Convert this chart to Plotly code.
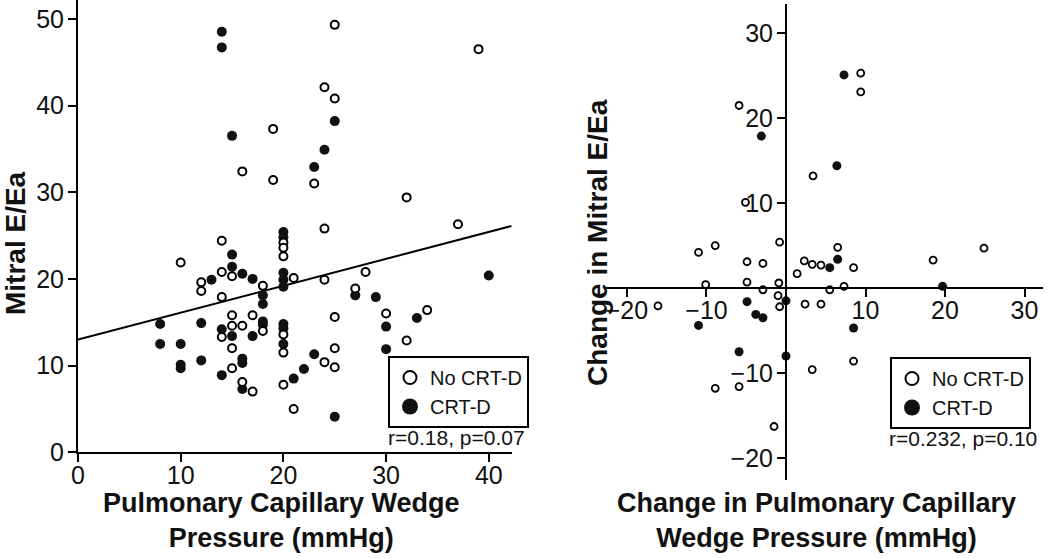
import plotly.graph_objs as go

# PCWP vs Mitral E/Ea
no_crt_x = [10, 12, 12, 14, 14, 14, 14, 15, 15, 15, 15, 15, 16, 16, 16, 17, 17, 18, 18, 19, 19,
            20, 20, 20, 20, 20, 20, 21, 21, 23, 24, 24, 24, 24, 25, 25, 25, 25, 25, 27, 28, 30,
            32, 32, 34, 37, 39]
no_crt_y = [21.9, 19.6, 18.6, 24.4, 20.8, 17.9, 13.3, 20.3, 15.8, 14.6, 12.0, 9.7, 32.4, 14.6, 8.1,
            15.8, 7.0, 19.2, 14.0, 37.3, 31.4, 24.2, 23.6, 22.6, 13.6, 11.5, 7.8, 20.1, 5.0, 31.0,
            42.1, 25.8, 19.9, 10.4, 49.3, 40.8, 15.6, 12.0, 9.8, 18.9, 20.8, 16.0, 29.4, 12.9,
            16.4, 26.3, 46.5]
crt_x = [8, 8, 10, 10, 10, 12, 12, 13, 14, 14, 14, 14, 15, 15, 15, 15, 16, 16, 16, 16, 17, 17,
         18, 18, 18, 18, 20, 20, 20, 20, 20, 20, 20, 20, 21, 22, 23, 23, 24, 25, 25, 27, 29,
         30, 30, 33, 40]
crt_y = [14.8, 12.5, 12.5, 10.1, 9.7, 14.9, 10.6, 19.9, 48.5, 46.7, 14.2, 8.9, 36.5, 22.8, 21.4,
         13.4, 20.6, 10.8, 10.3, 7.3, 20.0, 13.4, 18.1, 17.1, 15.1, 14.7, 25.4, 24.8, 20.7, 19.9,
         19.1, 14.8, 14.3, 12.5, 8.5, 9.6, 32.9, 11.3, 34.9, 38.2, 4.1, 18.1, 17.9, 14.5, 11.9,
         15.5, 20.4]
fit_x = [0, 42.2]
fit_y = [13.0, 26.1]

# change in PCWP vs change in Mitral E/Ea
d_no_crt_x = [-5.9, 3.4, -5.1, -0.8, -8.9, -11.0, -4.9, -2.9, 2.3, 3.3, 4.4, 1.4, -4.9, -0.9,
              -10.1, -2.9, -1.0, -16.1, -0.8, 2.4, 4.4, 3.3, -8.9, -5.9, -1.5, 9.4, 9.4, 6.5,
              24.9, 8.5, 18.5, 5.5, 7.3, 8.5]
d_no_crt_y = [21.5, 13.2, 10.1, 5.4, 5.0, 4.2, 3.1, 2.9, 3.2, 2.8, 2.7, 1.7, 0.7, 0.6, 0.4,
              -0.2, -0.9, -2.1, -2.2, -1.9, -1.9, -9.6, -11.8, -11.6, -16.3, 25.3, 23.1, 4.8,
              4.7, 2.4, 3.3, -0.2, 0.2, -8.6]
d_crt_x = [-3.1, -4.9, 0, -3.8, -2.9, -11.0, -5.9, 0, 7.3, 6.4, 6.5, 5.5, 19.7, 8.5]
d_crt_y = [17.9, -1.6, -1.5, -3.1, -3.5, -4.4, -7.5, -8.0, 25.1, 14.4, 3.4, 2.4, 0.2, -4.7]

# figure fills the whole window (body margin removed after plotting)
W, H = 1050, 559


def fx(px):  # window pixel -> paper fraction
    return px / W


def fy(py):
    return 1 - py / H


f_reg = "Liberation Sans, Arial, sans-serif"

fig = go.Figure()
# left panel
fig.add_trace(go.Scatter(x=fit_x, y=fit_y, mode="lines", line=dict(color="black", width=2),
                         showlegend=False, xaxis="x", yaxis="y"))
fig.add_trace(go.Scatter(x=crt_x, y=crt_y, mode="markers", showlegend=False,
                         marker=dict(symbol="circle", size=10, color="#111111", line=dict(width=0)),
                         xaxis="x", yaxis="y"))
fig.add_trace(go.Scatter(x=no_crt_x, y=no_crt_y, mode="markers", showlegend=False,
                         marker=dict(symbol="circle", size=8, color="white",
                                     line=dict(color="black", width=2)),
                         xaxis="x", yaxis="y"))
# right panel
fig.add_trace(go.Scatter(x=d_crt_x, y=d_crt_y, mode="markers", showlegend=False,
                         marker=dict(symbol="circle", size=9, color="#111111", line=dict(width=0)),
                         xaxis="x2", yaxis="y2"))
fig.add_trace(go.Scatter(x=d_no_crt_x, y=d_no_crt_y, mode="markers", showlegend=False,
                         marker=dict(symbol="circle", size=7, color="white",
                                     line=dict(color="black", width=1.8)),
                         xaxis="x2", yaxis="y2"))

# legend entries (bigger symbols like in the picture)
for lg, ax, ay in [("legend", "x", "y"), ("legend2", "x2", "y2")]:
    fig.add_trace(go.Scatter(x=[None], y=[None], mode="markers", name="No CRT-D", legend=lg,
                             marker=dict(symbol="circle", size=13, color="white",
                                         line=dict(color="black", width=2)),
                             xaxis=ax, yaxis=ay))
    fig.add_trace(go.Scatter(x=[None], y=[None], mode="markers", name="CRT-D", legend=lg,
                             marker=dict(symbol="circle", size=16, color="#111111", line=dict(width=0)),
                             xaxis=ax, yaxis=ay))

# window-pixel geometry of the two panels
x0_l, x1_l, ybot_l = 78, 512, 452.3
x0_r, x1_r, ytop_r, ybot_r = 606.3, 1042.8, 4, 480
xr2 = [-22.6, 32.3]
yr2 = [-22.6, 33.45]
zero_x_px = x0_r + (0 - xr2[0]) / (xr2[1] - xr2[0]) * (x1_r - x0_r)
zero_y_px = ybot_r - (0 - yr2[0]) / (yr2[1] - yr2[0]) * (ybot_r - ytop_r)

tick_font = dict(family=f_reg, size=25, color="#111111")
axis_common = dict(showgrid=False, zeroline=False, showline=True, linecolor="black", linewidth=2,
                   ticks="outside", ticklen=8, tickwidth=2, tickcolor="black", tickfont=tick_font,
                   automargin=False, ticklabeloverflow="allow")
x_ax = dict(axis_common, ticklabelstandoff=-8)
y_ax = dict(axis_common, ticklabelstandoff=-1)

legend_common = dict(xanchor="left", yanchor="top", bordercolor="black", borderwidth=2,
                     bgcolor="white", font=dict(family=f_reg, size=20, color="#111111"),
                     itemwidth=30, tracegroupgap=0)

fig.update_layout(
    template="none",
    width=W, height=H, autosize=False,
    margin=dict(l=0, r=0, t=0, b=0, pad=0),
    plot_bgcolor="white", paper_bgcolor="white",
    xaxis=dict(domain=[fx(x0_l), fx(x1_l)], range=[0, 42.26], tickvals=[0, 10, 20, 30, 40],
               anchor="y", **x_ax),
    yaxis=dict(domain=[fy(ybot_l), 1.0], range=[0, ybot_l / 8.67],
               tickvals=[0, 10, 20, 30, 40, 50], anchor="x", **y_ax),
    xaxis2=dict(domain=[fx(x0_r), fx(x1_r)], range=xr2, tickvals=[-20, -10, 10, 20, 30],
                anchor="free", position=fy(zero_y_px), **x_ax),
    yaxis2=dict(domain=[fy(ybot_r), fy(ytop_r)], range=yr2, tickvals=[-20, -10, 10, 20, 30],
                anchor="free", position=fx(zero_x_px), **y_ax),
    legend=dict(x=fx(388), y=fy(356), **legend_common),
    legend2=dict(x=fx(890), y=fy(357), **legend_common),
    showlegend=True,
)

ytitle_font = dict(family=f_reg, size=28, color="#111111")
xtitle_font = dict(family=f_reg, size=27, color="#111111")
note_font = dict(family=f_reg, size=21, color="#111111")
ann = dict(xref="paper", yref="paper", showarrow=False, xanchor="center", yanchor="middle")
fig.add_annotation(text="<b>Mitral E/Ea</b>", x=fx(15), y=fy(243), textangle=-90,
                   font=ytitle_font, **ann)
fig.add_annotation(text="<b>Pulmonary Capillary Wedge<br>Pressure (mmHg)</b>", x=fx(281.5), y=fy(520),
                   font=xtitle_font, **ann)
fig.add_annotation(text="<b>Change in Mitral E/Ea</b>", x=fx(597), y=fy(243), textangle=-90,
                   font=ytitle_font, **ann)
fig.add_annotation(text="<b>Change in Pulmonary Capillary<br>Wedge Pressure (mmHg)</b>", x=fx(816.5),
                   y=fy(520), font=xtitle_font, **ann)
fig.add_annotation(text="r=0.18, p=0.07", x=fx(456), y=fy(437), font=note_font, **ann)
fig.add_annotation(text="r=0.232, p=0.10", x=fx(963), y=fy(438), font=note_font, **ann)

fig.write_html("out.html", config={"displayModeBar": False},
               post_script="document.body.style.margin='0';")
